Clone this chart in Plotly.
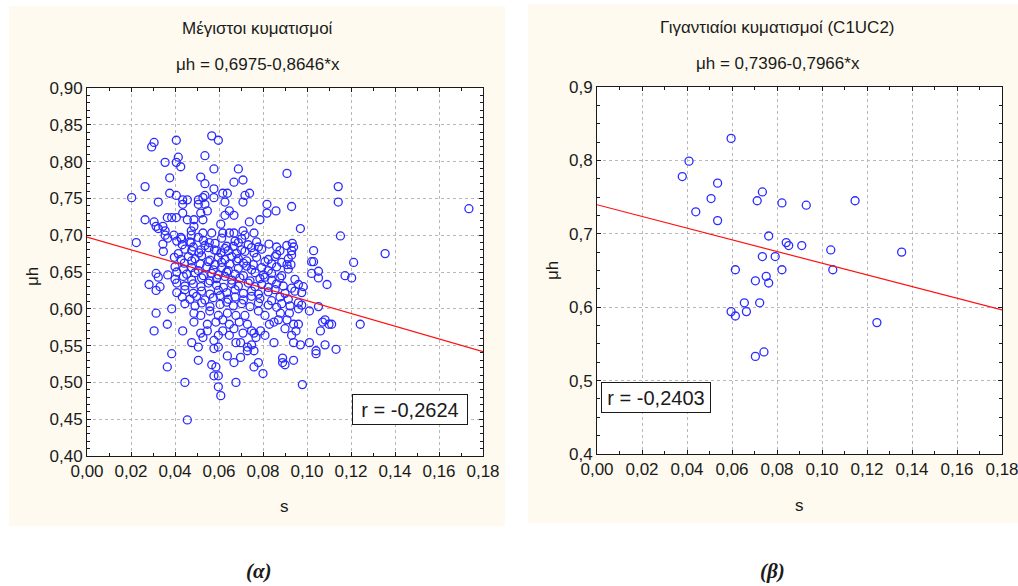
import plotly.graph_objects as go

# ---------------- (α) Μέγιστοι κυματισμοί ----------------
# (s, μh) pairs, upper part of the cloud (μh >= 0.70)
max_upper = [
    (0.0203, 0.751), (0.0264, 0.766), (0.0305, 0.826), (0.0294, 0.820), (0.0264, 0.721),
    (0.0305, 0.718), (0.0324, 0.745), (0.0355, 0.799), (0.0376, 0.778), (0.0376, 0.757),
    (0.0406, 0.829), (0.0415, 0.806), (0.0406, 0.799), (0.0426, 0.793), (0.0406, 0.754),
    (0.0435, 0.748), (0.0435, 0.742), (0.0456, 0.748), (0.0435, 0.730), (0.0365, 0.724),
    (0.0385, 0.724), (0.0406, 0.724), (0.0456, 0.721), (0.0486, 0.721), (0.0314, 0.712),
    (0.0324, 0.709), (0.0345, 0.712), (0.0355, 0.706), (0.0355, 0.700), (0.0395, 0.700),
    (0.0517, 0.779), (0.0536, 0.770), (0.0536, 0.808), (0.0567, 0.835), (0.0597, 0.829),
    (0.0577, 0.790), (0.0577, 0.763), (0.0577, 0.751), (0.0506, 0.748), (0.0527, 0.751),
    (0.0536, 0.754), (0.0506, 0.742), (0.0536, 0.742), (0.0547, 0.733), (0.0517, 0.730),
    (0.0617, 0.757), (0.0638, 0.757), (0.0627, 0.745), (0.0647, 0.733), (0.0627, 0.727),
    (0.0668, 0.727), (0.0688, 0.790), (0.0668, 0.772), (0.0709, 0.775), (0.0709, 0.745),
    (0.0718, 0.754), (0.0739, 0.757), (0.0527, 0.721), (0.0608, 0.715), (0.0738, 0.718),
    (0.0786, 0.721), (0.0818, 0.742), (0.0818, 0.730), (0.0859, 0.733), (0.0909, 0.784),
    (0.0930, 0.739), (0.0970, 0.709), (0.0527, 0.703), (0.0567, 0.703), (0.0617, 0.703),
    (0.0647, 0.703), (0.0668, 0.703), (0.0709, 0.706), (0.0718, 0.700), (0.0759, 0.703),
    (0.0474, 0.706), (0.0474, 0.700), (0.0486, 0.712), (0.1142, 0.766), (0.1142, 0.745),
    (0.1152, 0.699), (0.1736, 0.736),
]

# dense core of the cloud (0.60 < μh < 0.70), read band by band: (s values, μh values)
max_core = [
    ([0.0367, 0.0408, 0.0430, 0.0468, 0.0506, 0.0529, 0.0556, 0.0612, 0.0673, 0.0703, 0.0771],
     [0.696, 0.692, 0.695, 0.691, 0.697, 0.693, 0.690, 0.696, 0.692, 0.695, 0.691]),
    ([0.0433, 0.0473, 0.0536, 0.0582, 0.0635, 0.0688, 0.0733, 0.0779, 0.0827, 0.0908, 0.0933],
     [0.687, 0.690, 0.686, 0.689, 0.685, 0.690, 0.687, 0.684, 0.688, 0.686, 0.689]),
    ([0.0445, 0.0483, 0.0518, 0.0552, 0.0589, 0.0627, 0.0665, 0.0703, 0.0748, 0.0794, 0.0862, 0.0877],
     [0.681, 0.684, 0.680, 0.683, 0.679, 0.682, 0.685, 0.680, 0.683, 0.681, 0.684, 0.679]),
    ([0.0347, 0.0415, 0.0476, 0.0509, 0.0579, 0.0609, 0.0642, 0.0680, 0.0718, 0.0759, 0.0862, 0.0930],
     [0.678, 0.675, 0.679, 0.676, 0.680, 0.676, 0.679, 0.675, 0.678, 0.676, 0.674, 0.679]),
    ([0.0397, 0.0427, 0.0461, 0.0491, 0.0521, 0.0559, 0.0597, 0.0627, 0.0658, 0.0688, 0.0726,
      0.0771, 0.0824, 0.0855, 0.0915],
     [0.670, 0.667, 0.671, 0.668, 0.672, 0.666, 0.670, 0.667, 0.671, 0.668, 0.665,
      0.670, 0.667, 0.671, 0.668]),
    ([0.0442, 0.0476, 0.0514, 0.0552, 0.0582, 0.0612, 0.0650, 0.0680, 0.0711, 0.0756, 0.0809,
      0.0839, 0.0885, 0.0927],
     [0.662, 0.665, 0.661, 0.664, 0.660, 0.663, 0.661, 0.665, 0.662, 0.660, 0.664,
      0.661, 0.663, 0.660]),
    ([0.0400, 0.0438, 0.0476, 0.0506, 0.0544, 0.0574, 0.0612, 0.0642, 0.0688, 0.0726, 0.0748,
      0.0794, 0.0824, 0.0862, 0.0915],
     [0.657, 0.654, 0.656, 0.652, 0.657, 0.653, 0.656, 0.652, 0.655, 0.658, 0.653,
      0.656, 0.652, 0.657, 0.654]),
    ([0.0314, 0.0367, 0.0408, 0.0453, 0.0491, 0.0529, 0.0567, 0.0597, 0.0635, 0.0673, 0.0711,
      0.0764, 0.0802, 0.0839, 0.0885],
     [0.648, 0.646, 0.650, 0.647, 0.649, 0.645, 0.648, 0.646, 0.650, 0.647, 0.645,
      0.649, 0.646, 0.648, 0.645]),
    ([0.0324, 0.0400, 0.0438, 0.0476, 0.0521, 0.0559, 0.0589, 0.0627, 0.0658, 0.0695, 0.0741,
      0.0786, 0.0809, 0.0839, 0.0877, 0.0945],
     [0.643, 0.640, 0.644, 0.639, 0.642, 0.638, 0.641, 0.644, 0.639, 0.642, 0.638,
      0.641, 0.643, 0.639, 0.642, 0.640]),
    ([0.0282, 0.0332, 0.0408, 0.0445, 0.0483, 0.0518, 0.0552, 0.0589, 0.0620, 0.0658, 0.0688,
      0.0733, 0.0764, 0.0794, 0.0824, 0.0862, 0.0892, 0.0930, 0.0961, 0.0983],
     [0.633, 0.630, 0.635, 0.631, 0.634, 0.630, 0.635, 0.632, 0.629, 0.634, 0.631,
      0.635, 0.630, 0.633, 0.629, 0.634, 0.631, 0.628, 0.633, 0.630]),
    ([0.0314, 0.0408, 0.0445, 0.0483, 0.0521, 0.0559, 0.0597, 0.0635, 0.0673, 0.0711, 0.0748,
      0.0779, 0.0824, 0.0855, 0.0900, 0.0945, 0.0976],
     [0.625, 0.622, 0.626, 0.621, 0.624, 0.620, 0.625, 0.622, 0.626, 0.621, 0.624,
      0.620, 0.623, 0.626, 0.621, 0.624, 0.622]),
    ([0.0433, 0.0468, 0.0498, 0.0536, 0.0574, 0.0605, 0.0642, 0.0673, 0.0711, 0.0748, 0.0786,
      0.0839, 0.0877, 0.0915],
     [0.616, 0.613, 0.617, 0.612, 0.615, 0.618, 0.613, 0.616, 0.612, 0.617, 0.614,
      0.611, 0.616, 0.613]),
    ([0.0445, 0.0491, 0.0521, 0.0559, 0.0605, 0.0635, 0.0665, 0.0703, 0.0741, 0.0779, 0.0824,
      0.0862, 0.0885, 0.0923, 0.0961, 0.0976],
     [0.607, 0.604, 0.608, 0.603, 0.606, 0.609, 0.604, 0.607, 0.603, 0.608, 0.605,
      0.602, 0.607, 0.604, 0.608, 0.605]),
]

# scattered points around the core and on its right-hand side
max_side = [
    (0.0224, 0.690), (0.0345, 0.688), (0.0426, 0.697), (0.0939, 0.684), (0.0909, 0.660),
    (0.0930, 0.673), (0.1030, 0.679), (0.1030, 0.664), (0.1021, 0.664), (0.1052, 0.651),
    (0.1052, 0.642), (0.1021, 0.648), (0.1091, 0.633), (0.1212, 0.663), (0.1173, 0.645),
    (0.1203, 0.642), (0.1355, 0.675), (0.1052, 0.603),
]

# lower part of the cloud (μh <= 0.60)
max_lower = [
    (0.0314, 0.594), (0.0305, 0.570), (0.0365, 0.579), (0.0385, 0.600), (0.0435, 0.570),
    (0.0385, 0.539), (0.0365, 0.521), (0.0476, 0.554), (0.0506, 0.548), (0.0506, 0.530),
    (0.0445, 0.500), (0.0456, 0.449), (0.0567, 0.524), (0.0586, 0.521), (0.0577, 0.509),
    (0.0597, 0.509), (0.0597, 0.494), (0.0608, 0.482), (0.0677, 0.500), (0.0668, 0.527),
    (0.0638, 0.536), (0.0698, 0.534), (0.0759, 0.521), (0.0779, 0.527), (0.0800, 0.512),
    (0.0729, 0.543), (0.0759, 0.543), (0.0850, 0.554), (0.0889, 0.533), (0.0889, 0.527),
    (0.0900, 0.524), (0.0939, 0.530), (0.0979, 0.497), (0.0970, 0.551), (0.0939, 0.554),
    (0.1011, 0.554), (0.1041, 0.543), (0.1041, 0.539), (0.1082, 0.551), (0.1132, 0.545),
    (0.1061, 0.570), (0.1071, 0.582), (0.1082, 0.585), (0.1100, 0.579), (0.1112, 0.579),
    (0.1242, 0.579), (0.1011, 0.597), (0.0961, 0.600), (0.0920, 0.594), (0.0909, 0.585),
    (0.0900, 0.573), (0.0939, 0.579), (0.0961, 0.579), (0.0930, 0.564), (0.0950, 0.570),
    (0.0879, 0.594), (0.0870, 0.585), (0.0850, 0.582), (0.0829, 0.579), (0.0809, 0.591),
    (0.0779, 0.597), (0.0789, 0.570), (0.0809, 0.564), (0.0768, 0.561), (0.0748, 0.551),
    (0.0729, 0.548), (0.0698, 0.554), (0.0677, 0.554), (0.0709, 0.567), (0.0759, 0.567),
    (0.0668, 0.573), (0.0647, 0.564), (0.0617, 0.570), (0.0597, 0.564), (0.0577, 0.546),
    (0.0597, 0.548), (0.0577, 0.557), (0.0547, 0.570), (0.0517, 0.567), (0.0527, 0.561),
    (0.0486, 0.582), (0.0486, 0.594), (0.0517, 0.591), (0.0547, 0.579), (0.0586, 0.582),
    (0.0617, 0.585), (0.0647, 0.579), (0.0692, 0.582), (0.0729, 0.579), (0.0748, 0.570),
    (0.0718, 0.591), (0.0677, 0.591), (0.0638, 0.594), (0.0597, 0.591), (0.0558, 0.597),
]

max_fit = (0.6975, -0.8646)      # μh = a + b*s
max_r = "-0,2624"

# ---------------- (β) Γιγαντιαίοι κυματισμοί (C1UC2) ----------------
giant_s = [0.0596, 0.0409, 0.0379, 0.0536, 0.0507, 0.0439, 0.0536, 0.0735, 0.0712, 0.0822,
           0.0930, 0.1147, 0.0763, 0.0841, 0.0852, 0.0910, 0.1039, 0.1354, 0.0735, 0.0792,
           0.0615, 0.0822, 0.1048, 0.0752, 0.0704, 0.0763, 0.0655, 0.0723, 0.0596, 0.0615,
           0.0664, 0.1244, 0.0704, 0.0742]
giant_mh = [0.830, 0.799, 0.778, 0.769, 0.748, 0.730, 0.718, 0.757, 0.745, 0.742,
            0.739, 0.745, 0.697, 0.688, 0.684, 0.684, 0.678, 0.675, 0.669, 0.669,
            0.651, 0.651, 0.651, 0.642, 0.636, 0.633, 0.606, 0.606, 0.594, 0.588,
            0.594, 0.579, 0.533, 0.539]

giant_fit = (0.7396, -0.7966)
giant_r = "-0,2403"

S_RANGE = [0.0, 0.18]

# ---------------- assemble ----------------
max_s, max_mh = [], []
for s, m in max_upper + max_side + max_lower:
    max_s.append(s)
    max_mh.append(m)
for band_s, band_mh in max_core:
    max_s.extend(band_s)
    max_mh.extend(band_mh)

FONT = "Liberation Sans, Arial, sans-serif"
INK = "#1a1a1a"
BLUE = "#2b2bff"
PANEL = "#fefaef"

marker = dict(symbol="circle-open", size=8, color=BLUE, line=dict(width=1.3, color=BLUE))

fig = go.Figure()

fig.add_trace(go.Scatter(x=max_s, y=max_mh, mode="markers", marker=marker,
                         xaxis="x", yaxis="y", showlegend=False))
fig.add_trace(go.Scatter(x=S_RANGE, y=[max_fit[0] + max_fit[1] * s for s in S_RANGE],
                         mode="lines", line=dict(color="#ff1010", width=1.2),
                         xaxis="x", yaxis="y", showlegend=False))

fig.add_trace(go.Scatter(x=giant_s, y=giant_mh, mode="markers", marker=marker,
                         xaxis="x2", yaxis="y2", showlegend=False))
fig.add_trace(go.Scatter(x=S_RANGE, y=[giant_fit[0] + giant_fit[1] * s for s in S_RANGE],
                         mode="lines", line=dict(color="#ff1010", width=1.2),
                         xaxis="x2", yaxis="y2", showlegend=False))


def axis_style(domain, rng, dtick, minor_dtick, fmt, anchor):
    return dict(
        domain=domain, range=rng, dtick=dtick, tick0=rng[0], tickformat=fmt, anchor=anchor,
        automargin=False, ticklabeloverflow="allow",
        showline=True, linecolor=INK, linewidth=1, mirror="allticks",
        ticks="inside", ticklen=4, tickcolor=INK, tickwidth=1,
        minor=dict(dtick=minor_dtick, ticks="inside", ticklen=3, tickcolor=INK, showgrid=False),
        showgrid=True, gridcolor="#b8b8b8", griddash="dot", gridwidth=1,
        zeroline=False, fixedrange=True,
        tickfont=dict(family=FONT, size=17, color=INK),
    )


W, H = 1018, 586


def px(x):
    return x / W


def py(y):
    return 1 - y / H


fig.update_layout(
    width=W, height=H, margin=dict(l=0, r=0, t=0, b=0, autoexpand=False),
    paper_bgcolor="white", plot_bgcolor="white",
    separators=",.",
    font=dict(family=FONT, color=INK),
    xaxis=axis_style([px(87), px(483)], [0, 0.18], 0.02, 0.01, ".2f", "y"),
    yaxis=axis_style([py(456), py(88)], [0.4, 0.9], 0.05, 0.01, ".2f", "x"),
    xaxis2=axis_style([px(597), px(1002)], [0, 0.18], 0.02, 0.01, ".2f", "y2"),
    yaxis2=axis_style([py(454), py(87)], [0.4, 0.9], 0.1, 0.025, ".1f", "x2"),
)

# panel backgrounds and white plotting areas
fig.add_shape(type="rect", xref="paper", yref="paper", x0=px(9), x1=px(505), y0=py(526), y1=py(6),
              fillcolor=PANEL, line=dict(width=0), layer="below")
fig.add_shape(type="rect", xref="paper", yref="paper", x0=px(528), x1=px(1030), y0=py(523), y1=py(4),
              fillcolor=PANEL, line=dict(width=0), layer="below")
fig.add_shape(type="rect", xref="x domain", yref="y domain", x0=0, x1=1, y0=0, y1=1,
              fillcolor="white", line=dict(width=0), layer="below")
fig.add_shape(type="rect", xref="x2 domain", yref="y2 domain", x0=0, x1=1, y0=0, y1=1,
              fillcolor="white", line=dict(width=0), layer="below")


def label(text, x, y, size, **kw):
    fig.add_annotation(text=text, xref="paper", yref="paper", x=px(x), y=py(y),
                       xanchor="center", yanchor="middle", showarrow=False,
                       font=dict(family=FONT, size=size, color=INK), **kw)


# titles and equations
label("Μέγιστοι κυματισμοί", 257, 29, 17)
label("μh = 0,6975-0,8646*x", 258, 65, 17)
label("Γιγαντιαίοι κυματισμοί (C1UC2)", 777, 27, 17)
label("μh = 0,7396-0,7966*x", 778, 63, 17)

# axis titles
label("s", 284, 506, 17)
label("s", 799, 505, 17)
label("μh", 32, 276, 17, textangle=-90)
label("μh", 552, 271, 17, textangle=-90)

# correlation boxes
label("r = " + max_r, 410, 409.5, 20, bordercolor=INK, borderwidth=1, borderpad=3,
      bgcolor="white", width=108, height=23)
label("r = " + giant_r, 655.5, 397.5, 20, bordercolor=INK, borderwidth=1, borderpad=3,
      bgcolor="white", width=102, height=23)

# panel captions
fig.add_annotation(text="<b><i>(α)</i></b>", xref="paper", yref="paper", x=px(259), y=py(571),
                   xanchor="center", yanchor="middle", showarrow=False,
                   font=dict(family="Liberation Serif, Times New Roman, serif", size=21, color=INK))
fig.add_annotation(text="<b><i>(β)</i></b>", xref="paper", yref="paper", x=px(772), y=py(571),
                   xanchor="center", yanchor="middle", showarrow=False,
                   font=dict(family="Liberation Serif, Times New Roman, serif", size=21, color=INK))

fig.write_html("out.html")
